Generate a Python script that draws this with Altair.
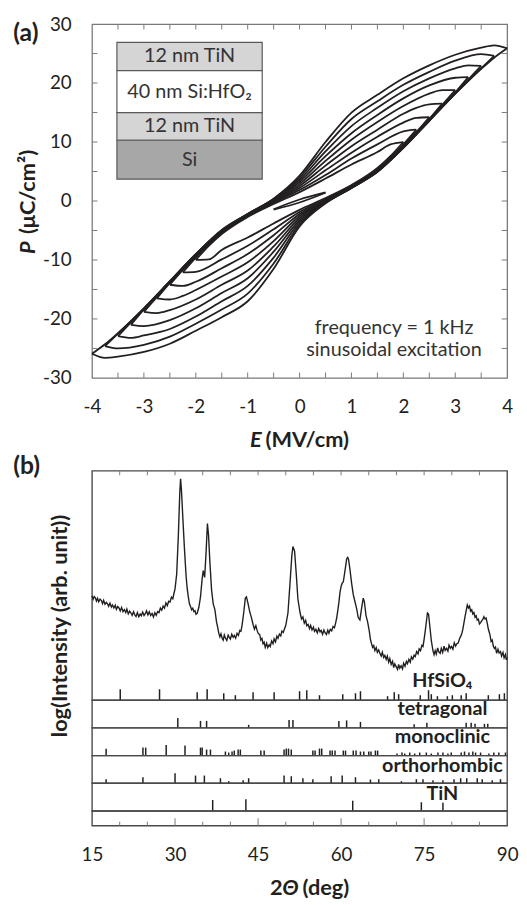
import altair as alt
import pandas as pd

FONT = "Lato"
INK = "#231f20"
FRAME_A = "#7a7a7a"
FRAME_B = "#4a4a4a"

# ---------------- (a) P-E hysteresis loops ----------------
loop_E = {
    "0.5": [-0.5, 0.0, 0.5],
    "2.0": [-2.0, -1.75, -1.5, -1.0, -0.5, 0.0, 0.5, 1.0, 1.5, 1.75, 2.0],
    "2.25": [-2.25, -2.0, -1.5, -1.0, -0.5, 0.0, 0.5, 1.0, 1.5, 2.0, 2.25],
    "2.5": [-2.5, -2.25, -2.0, -1.5, -1.0, -0.5, 0.0, 0.5, 1.0, 1.5, 2.0, 2.25, 2.5],
    "2.75": [-2.75, -2.5, -2.25, -2.0, -1.5, -1.0, -0.5, 0.0, 0.5, 1.0, 1.5, 2.0, 2.25, 2.5, 2.75],
    "3.0": [-3.0, -2.75, -2.5, -2.0, -1.5, -1.0, -0.5, 0.0, 0.5, 1.0, 1.5, 2.0, 2.5, 2.75, 3.0],
    "3.25": [-3.25, -3.0, -2.5, -2.0, -1.5, -1.0, -0.5, 0.0, 0.5, 1.0, 1.5, 2.0, 2.5, 3.0, 3.25],
    "3.5": [-3.5, -3.25, -3.0, -2.5, -2.0, -1.5, -1.0, -0.5, 0.0, 0.5, 1.0, 1.5, 2.0, 2.5, 3.0, 3.25, 3.5],
    "3.75": [-3.75, -3.5, -3.0, -2.5, -2.0, -1.5, -1.0, -0.5, 0.0, 0.5, 1.0, 1.5, 2.0, 2.5, 3.0, 3.5, 3.75],
    "4.0": [-4.0, -3.75, -3.5, -3.0, -2.5, -2.0, -1.5, -1.0, -0.5, 0.0, 0.5, 1.0, 1.5, 2.0, 2.5, 3.0, 3.5, 3.75, 4.0],
}
# rising branch (E increasing)
loop_lower = {
    "0.5": [-1.45, -0.25, 1.4],
    "2.0": [-10.0, -9.9, -8.3, -6.2, -3.8, -1.5, 0.5, 2.7, 5.6, 7.6, 10.0],
    "2.25": [-12.1, -12.0, -9.9, -7.6, -4.8, -1.85, 0.3, 2.5, 5.3, 9.6, 12.1],
    "2.5": [-14.2, -14.4, -13.7, -11.4, -9.0, -5.8, -2.2, 0.2, 2.5, 5.2, 9.4, 11.7, 14.2],
    "2.75": [-16.5, -16.7, -16.1, -15.1, -12.8, -10.4, -6.8, -2.55, 0.0, 2.4, 5.1, 9.3, 11.5, 13.9, 16.5],
    "3.0": [-18.8, -19.0, -18.5, -16.7, -14.2, -11.8, -7.7, -2.9, -0.1, 2.3, 5.1, 9.2, 13.8, 16.3, 18.8],
    "3.25": [-21.0, -21.2, -20.2, -18.2, -15.6, -13.1, -8.6, -3.25, -0.2, 2.3, 5.0, 9.1, 13.7, 18.4, 21.0],
    "3.5": [-22.9, -23.2, -22.8, -21.7, -19.6, -17.0, -14.4, -9.6, -3.6, -0.3, 2.2, 5.0, 9.1, 13.7, 18.3, 20.6, 22.9],
    "3.75": [-24.6, -25.0, -24.4, -23.0, -20.8, -18.4, -15.7, -10.6, -3.95, -0.35, 2.2, 5.0, 9.0, 13.6, 18.2, 22.5, 24.6],
    "4.0": [-25.9, -26.6, -26.4, -25.6, -24.2, -22.0, -19.7, -17.0, -11.5, -4.3, -0.4, 2.2, 4.9, 9.0, 13.6, 18.2, 22.4, 24.3, 25.9],
}
# falling branch (listed at the same E values)
loop_upper = {
    "0.5": [-1.4, 0.25, 1.45],
    "2.0": [-10.0, -7.6, -5.6, -2.7, -0.5, 1.5, 3.8, 6.2, 8.3, 9.6, 10.0],
    "2.25": [-12.1, -9.6, -5.3, -2.5, -0.3, 1.85, 4.4, 7.2, 9.6, 11.8, 12.1],
    "2.5": [-14.2, -11.7, -9.4, -5.2, -2.5, -0.2, 2.2, 5.2, 8.2, 10.9, 13.3, 14.1, 14.2],
    "2.75": [-16.5, -13.9, -11.5, -9.3, -5.1, -2.4, 0.0, 2.55, 6.0, 9.3, 12.1, 14.8, 15.8, 16.4, 16.5],
    "3.0": [-18.8, -16.3, -13.8, -9.2, -5.1, -2.3, 0.1, 2.9, 6.8, 10.4, 13.4, 16.1, 18.2, 18.8, 18.8],
    "3.25": [-21.0, -18.4, -13.7, -9.1, -5.0, -2.3, 0.2, 3.25, 7.6, 11.5, 14.6, 17.4, 19.6, 20.9, 21.0],
    "3.5": [-22.9, -20.6, -18.3, -13.7, -9.1, -5.0, -2.2, 0.3, 3.6, 8.4, 12.7, 15.8, 18.6, 20.8, 22.5, 23.0, 22.9],
    "3.75": [-24.6, -22.5, -18.2, -13.6, -9.0, -5.0, -2.2, 0.35, 3.95, 9.2, 13.9, 16.9, 19.7, 21.9, 23.8, 24.9, 24.6],
    "4.0": [-25.9, -24.3, -22.4, -18.2, -13.6, -9.0, -4.9, -2.2, 0.4, 4.3, 10.0, 15.0, 18.0, 20.8, 23.0, 24.8, 26.0, 26.4, 25.9],
}

E_labels = [-4, -3, -2, -1, 0, 1, 2, 3, 4]
P_labels = [-30, -20, -10, 0, 10, 20, 30]
E_minor = [-3.5, -3, -2.5, -2, -1.5, -1, -0.5, 0, 0.5, 1, 1.5, 2, 2.5, 3, 3.5]
P_minor = [-25, -20, -15, -10, -5, 0, 5, 10, 15, 20, 25]

# inset layer stack
inset_names = ["12 nm TiN", "40 nm Si:HfO\u2082", "12 nm TiN", "Si"]
inset_top = [26.9, 22.1, 15.0, 10.3]
inset_bottom = [22.1, 15.0, 10.3, 3.7]
inset_fill = ["#d5d5d5", "#ffffff", "#d5d5d5", "#a7a7a7"]
inset_left, inset_right = -3.52, -0.72

# ---------------- (b) XRD pattern: (2theta, log intensity in arb. units) ----------------
xrd_pts = [
    (15.0, 45.5), (15.2, 44.0), (15.4, 45.2), (15.6, 44.6), (15.8, 43.2), (16.0, 44.4), (16.2, 42.9),
    (16.45, 44.0), (16.7, 43.4), (16.9, 42.1), (17.1, 43.5), (17.35, 41.8), (17.6, 42.6), (17.8, 42.0),
    (18.0, 40.9), (18.25, 42.3), (18.5, 40.6), (18.7, 41.5), (18.95, 40.2), (19.2, 41.4), (19.4, 39.6),
    (19.65, 40.8), (19.9, 40.1), (20.1, 38.9), (20.35, 40.4), (20.6, 38.6), (20.85, 39.5), (21.1, 38.2),
    (21.3, 39.7), (21.55, 37.6), (21.8, 38.8), (22.0, 38.1), (22.25, 37.0), (22.5, 38.6), (22.7, 37.3),
    (22.95, 36.5), (23.2, 38.2), (23.45, 36.4), (23.7, 37.5), (23.9, 36.8), (24.15, 38.4), (24.4, 36.9),
    (24.6, 37.6), (24.85, 38.9), (25.1, 37.2), (25.35, 38.5), (25.6, 36.9), (25.85, 37.8), (26.1, 36.3),
    (26.35, 38.1), (26.6, 37.0), (26.85, 38.6), (27.1, 38.2), (27.35, 40.1), (27.6, 39.2), (27.85, 41.0),
    (28.1, 40.1), (28.35, 42.4), (28.6, 41.2), (28.85, 43.1), (29.1, 42.8), (29.35, 44.9), (29.6, 44.2),
    (29.8, 46.5), (30.0, 48.5),
    (30.3, 55.0), (30.6, 72.0), (30.85, 90.0), (31.0, 96.5), (31.15, 92.0), (31.4, 80.0), (31.7, 66.0),
    (32.0, 54.0), (32.2, 48.6), (32.4, 45.0), (32.6, 42.0), (32.8, 40.8), (33.0, 39.4), (33.2, 40.1),
    (33.4, 38.6), (33.6, 39.0), (33.8, 37.4), (34.0, 37.8), (34.3, 40.5), (34.6, 45.0), (34.9, 53.0),
    (35.1, 56.5), (35.35, 53.5), (35.6, 64.0), (35.85, 77.0), (36.05, 72.0), (36.3, 60.0), (36.6, 48.0),
    (36.9, 42.0), (37.2, 39.5),
    (37.5, 34.0), (37.7, 31.8), (37.9, 29.2), (38.1, 27.6), (38.3, 28.9), (38.5, 27.0), (38.7, 26.2),
    (38.9, 28.4), (39.1, 27.1), (39.35, 26.0), (39.6, 28.3), (39.8, 27.4), (40.0, 26.6), (40.25, 28.7),
    (40.5, 27.4), (40.7, 28.2), (40.95, 27.0), (41.2, 29.1), (41.45, 28.2), (41.7, 30.4), (41.9, 30.0),
    (42.1, 32.5),
    (42.4, 38.0), (42.7, 44.5), (42.9, 45.0), (43.2, 42.0), (43.5, 38.5), (43.8, 36.0),
    (44.1, 33.0), (44.35, 31.0), (44.6, 32.5), (44.85, 30.2), (45.05, 29.0), (45.3, 28.6), (45.5, 26.2),
    (45.7, 26.9), (45.9, 24.6), (46.1, 25.3), (46.3, 23.0), (46.55, 24.8), (46.75, 22.9), (47.0, 24.1),
    (47.2, 23.4), (47.45, 25.8), (47.7, 24.6), (47.9, 26.7), (48.15, 25.4), (48.4, 27.9), (48.6, 27.0),
    (48.85, 28.8), (49.1, 28.0), (49.3, 30.1), (49.55, 29.5), (49.8, 31.2), (50.0, 32.5),
    (50.4, 38.0), (50.8, 52.0), (51.1, 63.0), (51.3, 67.0), (51.6, 65.0), (51.9, 55.0), (52.2, 44.0),
    (52.6, 38.0), (52.85, 35.4), (53.1, 36.3), (53.35, 33.6), (53.6, 34.8), (53.8, 32.5), (54.05, 33.0),
    (54.3, 31.2), (54.5, 32.6), (54.75, 30.6), (55.0, 31.8), (55.2, 30.0), (55.45, 30.9), (55.7, 29.3),
    (55.95, 31.2), (56.2, 29.8), (56.4, 30.4), (56.65, 28.7), (56.9, 30.6), (57.1, 29.4), (57.35, 28.6),
    (57.6, 30.5), (57.8, 29.2), (58.05, 30.9), (58.3, 30.2), (58.55, 32.1), (58.8, 31.6), (59.0, 33.5),
    (59.2, 35.8), (59.4, 39.0), (59.6, 42.5), (59.8, 47.0), (60.0, 49.6), (60.2, 51.0), (60.4, 51.6),
    (60.6, 54.8), (60.8, 58.0), (61.0, 61.5), (61.2, 62.2), (61.35, 61.4), (61.6, 57.0), (61.9, 51.0),
    (62.2, 46.0), (62.5, 43.0), (62.8, 40.0), (63.1, 36.0), (63.4, 35.0), (63.7, 40.0), (64.0, 44.5),
    (64.2, 43.0), (64.5, 37.0), (64.8, 34.0),
    (65.1, 30.0), (65.3, 26.5), (65.5, 24.6), (65.7, 23.0), (65.9, 23.8), (66.1, 21.6), (66.35, 22.9),
    (66.55, 20.8), (66.8, 21.9), (67.0, 20.4), (67.25, 19.2), (67.45, 20.9), (67.7, 18.6), (67.9, 19.5),
    (68.15, 17.8), (68.35, 19.2), (68.6, 16.6), (68.8, 18.1), (69.05, 15.6), (69.3, 16.9), (69.5, 14.2),
    (69.7, 15.8), (69.95, 14.6), (70.2, 13.4), (70.4, 15.6), (70.6, 13.9), (70.85, 15.0), (71.1, 13.6),
    (71.3, 16.1), (71.55, 14.8), (71.8, 16.9), (72.0, 15.9), (72.25, 17.8), (72.5, 16.6), (72.7, 18.9),
    (72.95, 17.9), (73.2, 19.6), (73.4, 19.0), (73.65, 21.2), (73.9, 20.2), (74.1, 22.4), (74.35, 21.6),
    (74.6, 23.9), (74.8, 23.4), (75.0, 26.5),
    (75.3, 32.0), (75.6, 38.0), (75.8, 37.5), (76.0, 33.0), (76.3, 26.0),
    (76.6, 21.5), (76.8, 19.8), (77.0, 21.6), (77.2, 20.1), (77.45, 22.8), (77.65, 21.0), (77.9, 20.4),
    (78.1, 22.6), (78.35, 20.8), (78.6, 23.5), (78.8, 21.7), (79.05, 22.6), (79.3, 21.4), (79.5, 24.0),
    (79.75, 22.6), (79.95, 23.4), (80.2, 22.2), (80.45, 25.0), (80.7, 23.6), (80.9, 24.6), (81.15, 24.9),
    (81.4, 26.8), (81.65, 28.0), (81.85, 29.4), (82.0, 31.0),
    (82.4, 36.5), (82.8, 41.5), (83.0, 40.2), (83.2, 41.0), (83.4, 38.8), (83.6, 39.4), (83.8, 37.6),
    (84.0, 38.2), (84.2, 36.2), (84.4, 36.8), (84.6, 34.9), (84.8, 35.3), (85.0, 33.2), (85.2, 33.8),
    (85.4, 34.6), (85.6, 35.2), (85.8, 36.4), (86.0, 35.4), (86.2, 35.8), (86.4, 33.6), (86.6, 31.0),
    (86.9, 28.5), (87.1, 25.6), (87.3, 26.2), (87.5, 23.6), (87.7, 22.5), (87.9, 23.1), (88.1, 20.4),
    (88.35, 22.2), (88.55, 20.6), (88.8, 21.2), (89.0, 19.2), (89.25, 20.8), (89.45, 18.4), (89.7, 19.9),
    (89.85, 17.6), (90.0, 18.6),
]

# reference patterns: position (2theta) and relative height
hfsio4_tt = [20.1, 27.2, 34.0, 35.8, 38.8, 40.9, 44.1, 47.9, 52.5, 53.8, 56.1, 60.3, 62.6, 63.5, 68.4, 69.6, 70.4,
             74.3, 75.8, 76.3, 77.4, 79.2, 80.1, 81.7, 82.6, 86.6, 88.6, 89.5]
hfsio4_h = [11, 11, 8, 11, 7, 5, 8, 8, 9, 10, 5, 6, 7, 9, 4, 8, 6, 5, 10, 6, 4, 4, 5, 5, 7, 5, 6, 7]
tetra_tt = [30.5, 34.6, 35.7, 43.3, 50.6, 51.3, 59.6, 61.0, 63.5, 73.2, 75.5, 82.6, 83.5, 84.2, 85.9, 86.5]
tetra_h = [10, 7, 7, 3, 8, 8, 7, 7.5, 6, 3.5, 5, 5, 5, 4, 4, 4]
mono_tt = [17.55, 24.2, 24.7, 28.4, 31.8, 34.6, 34.9, 35.7, 36.4, 39.1, 39.7, 40.3, 40.7, 41.4, 41.8, 45.5, 46.1,
           49.7, 50.1, 50.5, 51.0, 54.9, 55.3, 56.1, 56.5, 58.0, 58.4, 58.9, 60.4, 60.8, 62.2, 62.7, 63.5, 64.1,
           65.0, 65.4, 66.2, 66.6, 70.1, 71.0, 71.5, 72.4, 73.3, 74.2, 75.4, 76.3, 77.5, 78.4, 79.3, 79.9, 81.7,
           82.3, 83.1, 83.8, 84.3, 85.2, 86.7, 87.6, 88.5, 89.7]
mono_h = [6.7, 8, 8, 10.7, 10, 8, 8, 6, 6, 4, 3, 4, 5, 6, 6, 5, 5, 6, 7, 7, 6, 5, 5, 7, 7, 5, 5, 5, 5, 5, 5, 5, 4, 4,
          4, 4, 5, 5, 2, 3, 2, 3, 2, 3, 3, 2, 3, 3, 2, 3, 3, 4, 3, 4, 3, 3, 2, 3, 3, 3]
ortho_tt = [17.55, 24.2, 30.0, 33.7, 35.3, 38.2, 39.7, 42.3, 43.3, 49.7, 51.0, 53.1, 54.9, 58.2, 60.2, 62.6, 65.3,
            66.8, 70.9, 73.6, 74.8, 76.6, 78.4, 80.4, 81.6, 82.7, 84.6, 85.5, 87.3, 88.8]
ortho_h = [4, 6, 10, 7.7, 7.7, 5, 2, 3, 5, 7.7, 7, 5, 4, 7, 7.7, 6, 3.7, 4, 2, 4, 4, 3, 3, 4, 5, 5, 5, 4, 3, 4]
tin_tt = [36.8, 42.8, 62.1, 74.5, 78.4]
tin_h = [11, 11.7, 10.3, 8.7, 8.3]

tt_labels = [15, 30, 45, 60, 75, 90]
tt_long_ticks = [30, 45, 60, 75]
tt_short_ticks = [20, 25, 35, 40, 50, 55, 65, 70, 80, 85]
tt_top_ticks = [20, 25, 30, 35, 40, 45, 50, 55, 60, 65, 70, 75, 80, 85]
pattern_label_tt = 78.3

# ---------------- layout constants ----------------
WA, HA = 420, 358
WB, HB = 420, 232
HS = 28
HL = 15


def txt(label, x, y, size, weight="normal", style="normal", align="left", angle=0, baseline="middle"):
    return alt.Chart(pd.DataFrame({"t": [label]})).mark_text(
        font=FONT, fontSize=size, fontWeight=weight, fontStyle=style, align=align,
        baseline=baseline, angle=angle, color=INK
    ).encode(x=alt.value(x), y=alt.value(y), text="t:N")


# ======== panel (a) ========
rows = []
for amp in loop_E:
    for e, p in zip(loop_E[amp], loop_lower[amp]):
        rows.append({"E": e, "P": p, "key": amp + "-lo"})
    for e, p in zip(loop_E[amp], loop_upper[amp]):
        rows.append({"E": e, "P": p, "key": amp + "-up"})
loops_df = pd.DataFrame(rows)

xs = alt.Scale(domain=[-4, 4], nice=False, zero=False)
ys = alt.Scale(domain=[-30, 30], nice=False, zero=False)
ax_x = alt.Axis(values=E_labels, labelExpr="datum.value", ticks=False, domain=False, grid=False, title=None,
                labelFontSize=19, labelPadding=20, labelFont=FONT, labelColor=INK, labelFlush=False)
ax_y = alt.Axis(values=P_labels, labelExpr="datum.value", ticks=False, domain=False, grid=False, title=None,
                labelFontSize=19, labelPadding=21, labelFont=FONT, labelColor=INK, labelFlush=False)


def XA(field):
    return alt.X(field, scale=xs, axis=ax_x)


def YA(field):
    return alt.Y(field, scale=ys, axis=ax_y)


loops = alt.Chart(loops_df).mark_line(color=INK, strokeWidth=1.8, interpolate="monotone").encode(
    x=XA("E:Q"), y=YA("P:Q"), detail="key:N", order="E:Q",
)

inset_df = pd.DataFrame({"name": inset_names, "top": inset_top, "bottom": inset_bottom, "fill": inset_fill})
inset_df["x0"] = inset_left
inset_df["x1"] = inset_right
inset_df["xm"] = (inset_left + inset_right) / 2
inset_df["ym"] = (inset_df["top"] + inset_df["bottom"]) / 2
inset_rect = alt.Chart(inset_df).mark_rect(stroke="#595959", strokeWidth=1.2).encode(
    x=XA("x0:Q"), x2="x1:Q", y=YA("top:Q"), y2="bottom:Q",
    fill=alt.Fill("fill:N", scale=None),
)
inset_text = alt.Chart(inset_df).mark_text(font=FONT, fontSize=20, color="#333333", baseline="middle").encode(
    x=XA("xm:Q"), y=YA("ym:Q"), text="name:N"
)

pm = pd.DataFrame({"P": P_minor})
em = pd.DataFrame({"E": E_minor})
tick_left = alt.Chart(pm).mark_rule(color=FRAME_A, strokeWidth=1).encode(
    y=YA("P:Q"), x=alt.value(0), x2=alt.value(5.5))
tick_right = alt.Chart(pm).mark_rule(color=FRAME_A, strokeWidth=1).encode(
    y=YA("P:Q"), x=alt.value(WA - 5.5), x2=alt.value(WA))
tick_bottom = alt.Chart(em).mark_rule(color=FRAME_A, strokeWidth=1).encode(
    x=XA("E:Q"), y=alt.value(HA), y2=alt.value(HA - 5.5))
tick_top = alt.Chart(em).mark_rule(color=FRAME_A, strokeWidth=1).encode(
    x=XA("E:Q"), y=alt.value(0), y2=alt.value(5.5))

note = alt.Chart(pd.DataFrame({"t": ["frequency = 1 kHz", "sinusoidal excitation"],
                               "x": [1.82, 1.82], "y": [-21.6, -25.3]})).mark_text(
    font=FONT, fontSize=20, color="#333333", baseline="middle").encode(
    x=XA("x:Q"), y=YA("y:Q"), text="t:N")

panel_a = alt.layer(
    loops, inset_rect, inset_text, tick_left, tick_right, tick_bottom, tick_top, note,
    txt("(a)", -79.7, 9.5, 25, weight="bold"),
    txt("E", 171.6, 420.5, 22, weight="bold", style="italic", align="right"),
    txt("(MV/cm)", 175.5, 420.5, 22, weight="bold"),
    txt("P", -65, 232.5, 22, weight="bold", style="italic", angle=270),
    txt("(\u03bcC/cm\u00b2)", -65, 212.5, 22, weight="bold", angle=270),
).properties(width=WA, height=HA, view=alt.ViewBackground(stroke=FRAME_A, strokeWidth=1.3))

# ======== panel (b) ========
xb = alt.Scale(domain=[15, 90], nice=False, zero=False)
xrd_df = pd.DataFrame(xrd_pts, columns=["tt", "I"])

xrd_line = alt.Chart(xrd_df).mark_line(color=INK, strokeWidth=1.4).encode(
    x=alt.X("tt:Q", scale=xb, axis=None),
    y=alt.Y("I:Q", scale=alt.Scale(domain=[0, 100], nice=False, zero=False), axis=None),
)
hf_sticks = alt.Chart(pd.DataFrame({"tt": hfsio4_tt, "h": hfsio4_h})).mark_rule(color=INK, strokeWidth=1.5).encode(
    x=alt.X("tt:Q", scale=xb, axis=None),
    y=alt.Y("h:Q", scale=alt.Scale(domain=[0, HB], nice=False, zero=False), axis=None),
    y2=alt.value(HB),
)
top_ticks = alt.Chart(pd.DataFrame({"tt": tt_top_ticks})).mark_rule(color=FRAME_A, strokeWidth=1).encode(
    x=alt.X("tt:Q", scale=xb, axis=None), y=alt.value(0), y2=alt.value(4.5))
hf_label = alt.Chart(pd.DataFrame({"t": ["HfSiO\u2084"], "tt": [pattern_label_tt]})).mark_text(
    font=FONT, fontSize=20, fontWeight="bold", color=INK, baseline="middle").encode(
    x=alt.X("tt:Q", scale=xb, axis=None), y=alt.value(212.4), text="t:N")

view_b = alt.ViewBackground(stroke=FRAME_B, strokeWidth=1.4)

panel_b = alt.layer(
    xrd_line, hf_sticks, top_ticks, hf_label,
    txt("(b)", -79.7, -4.3, 25, weight="bold"),
    txt("log(Intensity (arb. unit))", -32.7, 157, 22, weight="bold", align="center", angle=270),
).resolve_scale(y="independent").properties(width=WB, height=HB, view=view_b)


def band(tt, h, label, ly):
    sticks = alt.Chart(pd.DataFrame({"tt": tt, "h": h})).mark_rule(color=INK, strokeWidth=1.5).encode(
        x=alt.X("tt:Q", scale=xb, axis=None),
        y=alt.Y("h:Q", scale=alt.Scale(domain=[0, HS], nice=False, zero=False), axis=None),
        y2=alt.value(HS),
    )
    lab = alt.Chart(pd.DataFrame({"t": [label], "tt": [pattern_label_tt]})).mark_text(
        font=FONT, fontSize=20, fontWeight="bold", color=INK, baseline="middle").encode(
        x=alt.X("tt:Q", scale=xb, axis=None), y=alt.value(ly), text="t:N")
    return alt.layer(sticks, lab).properties(width=WB, height=HS, view=view_b)


band_t = band(tetra_tt, tetra_h, "tetragonal", 9)
band_m = band(mono_tt, mono_h, "monoclinic", 9.5)
band_o = band(ortho_tt, ortho_h, "orthorhombic", 10.5)
band_n = band(tin_tt, tin_h, "TiN", 11)

ax_b = alt.Axis(values=tt_labels, ticks=False, domain=False, grid=False, title=None, labelFlush=False,
                labelFontSize=19, labelPadding=20, labelFont=FONT, labelColor=INK)
long_t = alt.Chart(pd.DataFrame({"tt": tt_long_ticks})).mark_rule(color=FRAME_A, strokeWidth=1).encode(
    x=alt.X("tt:Q", scale=xb, axis=ax_b), y=alt.value(HL), y2=alt.value(HL - 7.5))
short_t = alt.Chart(pd.DataFrame({"tt": tt_short_ticks})).mark_rule(color=FRAME_A, strokeWidth=1).encode(
    x=alt.X("tt:Q", scale=xb, axis=ax_b), y=alt.value(HL), y2=alt.value(HL - 4))
band_axis = alt.layer(
    long_t, short_t,
    txt("2", 180, 78, 22, weight="bold"),
    txt("\u0398", 192.5, 78, 22, weight="bold", style="italic"),
    txt("(deg)", 213, 78, 22, weight="bold"),
).properties(width=WB, height=HL, view=view_b)

lower = alt.vconcat(panel_b, band_t, band_m, band_o, band_n, band_axis, spacing=0, bounds="flush")

chart = alt.vconcat(panel_a, lower, spacing=94, bounds="flush").properties(
    padding={"left": 4, "top": 1, "right": 0, "bottom": 0}
)

chart.save("out.html", embed_options={"renderer": "svg", "actions": False})
